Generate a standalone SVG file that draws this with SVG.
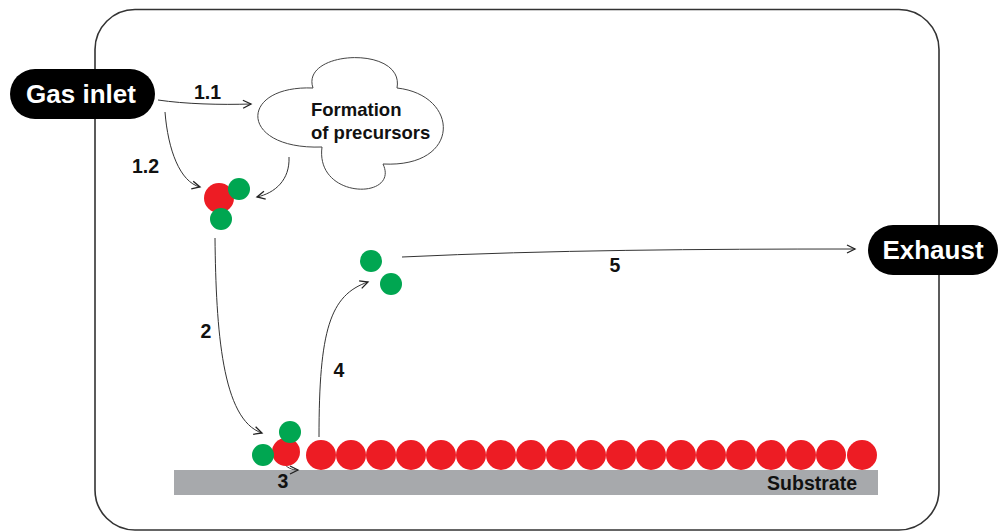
<svg xmlns="http://www.w3.org/2000/svg" width="1002" height="531" viewBox="0 0 1002 531">
  <style>
    .frame { fill: none; stroke: #333; stroke-width: 1.6; }
    .pill { fill: #000; }
    .pill-text { fill: #fff; font-family: "Liberation Sans", Arial, sans-serif; font-weight: bold; font-size: 26px; text-anchor: middle; }
    .label { fill: #111; font-family: "Liberation Sans", Arial, sans-serif; font-weight: bold; font-size: 19.5px; }
    .cloud { fill: #fff; stroke: #444; stroke-width: 1; }
    .cloud-text { fill: #111; font-family: "Liberation Sans", Arial, sans-serif; font-weight: bold; font-size: 18.5px; }
    .conn { fill: none; stroke: #333; stroke-width: 1; marker-end: url(#arrow); }
    .red { fill: #ed1c24; }
    .green { fill: #00a651; }
    .substrate { fill: #a7a9ac; }
  </style>
  <defs>
    <marker id="arrow" markerUnits="userSpaceOnUse" markerWidth="12" markerHeight="12" refX="9" refY="5" orient="auto">
      <path d="M1,1 L9,5 L1,9" fill="none" stroke="#222" stroke-width="1.3"/>
    </marker>
  </defs>

  <rect width="1002" height="531" fill="#fff"/>

  <!-- reactor chamber -->
  <rect class="frame" x="95" y="9.5" width="844" height="520.5" rx="40" ry="40"/>

  <!-- substrate -->
  <g id="substrate">
    <rect class="substrate" x="174" y="470" width="704" height="25"/>
    <text class="label" x="857" y="490" text-anchor="end">Substrate</text>
  </g>

  <!-- deposited film -->
  <g id="film">
    <circle class="red" cx="321" cy="455" r="15"/>
    <circle class="red" cx="351" cy="455" r="15"/>
    <circle class="red" cx="381" cy="455" r="15"/>
    <circle class="red" cx="411" cy="455" r="15"/>
    <circle class="red" cx="441" cy="455" r="15"/>
    <circle class="red" cx="471" cy="455" r="15"/>
    <circle class="red" cx="501" cy="455" r="15"/>
    <circle class="red" cx="531" cy="455" r="15"/>
    <circle class="red" cx="561" cy="455" r="15"/>
    <circle class="red" cx="591" cy="455" r="15"/>
    <circle class="red" cx="621" cy="455" r="15"/>
    <circle class="red" cx="651" cy="455" r="15"/>
    <circle class="red" cx="681" cy="455" r="15"/>
    <circle class="red" cx="711" cy="455" r="15"/>
    <circle class="red" cx="741" cy="455" r="15"/>
    <circle class="red" cx="771" cy="455" r="15"/>
    <circle class="red" cx="801" cy="455" r="15"/>
    <circle class="red" cx="831" cy="455" r="15"/>
    <circle class="red" cx="862" cy="455" r="15"/>
  </g>

  <!-- connectors -->
  <g id="connectors">
    <path class="conn" d="M158,100 C185,104 220,105 251,104"/>
    <path class="conn" d="M165,112 C168,150 180,182 200,187"/>
    <path class="conn" d="M289,157 C290,180 275,193 257,197"/>
    <path class="conn" d="M215,238 C216,330 222,420 262,433"/>
    <path class="conn" d="M283,461 C286,468 292,470 298,470"/>
    <path class="conn" d="M319,437 C319,330 330,295 368,282"/>
    <path class="conn" d="M402,257 C550,250 700,249 855,249"/>
  </g>

  <!-- step labels -->
  <g id="labels">
    <text class="label" x="194" y="99">1.1</text>
    <text class="label" x="132" y="173">1.2</text>
    <text class="label" x="206" y="338" text-anchor="middle">2</text>
    <text class="label" x="283" y="488" text-anchor="middle">3</text>
    <text class="label" x="339" y="377" text-anchor="middle">4</text>
    <text class="label" x="615" y="272" text-anchor="middle">5</text>
  </g>

  <!-- gas inlet -->
  <g id="gas-inlet">
    <rect class="pill" x="10" y="69" width="145" height="50" rx="25" ry="25"/>
    <text class="pill-text" x="81" y="103">Gas inlet</text>
  </g>

  <!-- exhaust -->
  <g id="exhaust">
    <rect class="pill" x="868" y="225" width="130" height="50" rx="25" ry="25"/>
    <text class="pill-text" x="933" y="259">Exhaust</text>
  </g>

  <!-- gas-phase reactions -->
  <g id="precursor-formation">
    <path class="cloud" d="M313,88 C300,50 405,45 397,88 C460,95 462,168 383,164 C400,200 315,200 322,147 C238,150 238,85 313,88 Z"/>
    <text class="cloud-text" x="311" y="116">Formation</text>
    <text class="cloud-text" x="311" y="139">of precursors</text>
  </g>

  <!-- precursor molecule -->
  <g id="precursor">
    <circle class="red" cx="219" cy="198" r="15"/>
    <circle class="green" cx="239" cy="189" r="11"/>
    <circle class="green" cx="221" cy="219" r="11"/>
  </g>

  <!-- adsorbed precursor -->
  <g id="adsorbed">
    <circle class="red" cx="286" cy="452" r="14"/>
    <circle class="green" cx="290" cy="432" r="11"/>
    <circle class="green" cx="263" cy="455" r="11"/>
  </g>

  <!-- desorbed by-products -->
  <g id="byproducts">
    <circle class="green" cx="371" cy="261" r="11"/>
    <circle class="green" cx="391" cy="284" r="11"/>
  </g>
</svg>
